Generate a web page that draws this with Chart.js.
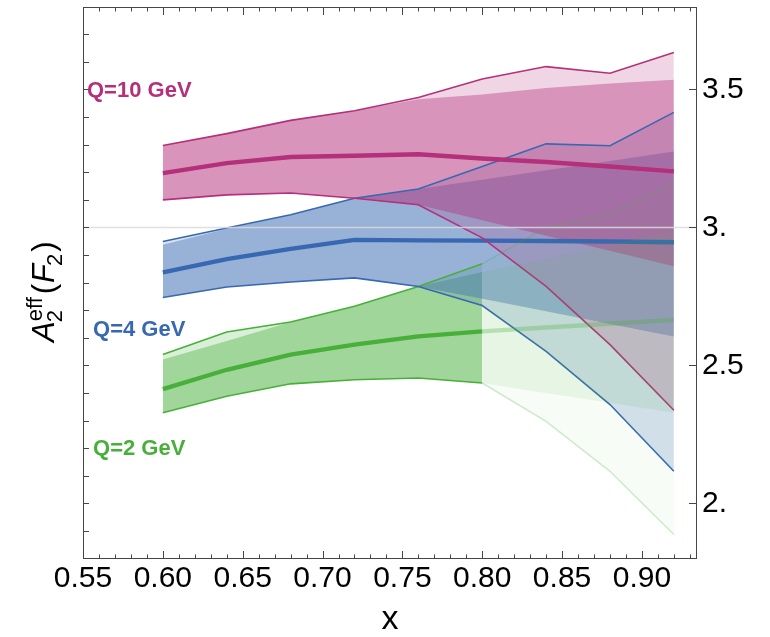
<!DOCTYPE html>
<html>
<head>
<meta charset="utf-8">
<script src="https://cdn.jsdelivr.net/npm/chart.js@4.4.1/dist/chart.umd.min.js"></script>
<style>
  html, body { margin: 0; padding: 0; background: #ffffff; }
  #wrap { width: 770px; height: 637px; }
</style>
</head>
<body>
<div id="wrap"><canvas id="c" width="770" height="637"></canvas></div>
<script>
// ---------------- data ----------------
const xValues = [0.60, 0.64, 0.68, 0.72, 0.76, 0.80, 0.84, 0.88, 0.92];

// Q = 10 GeV
const q10Central    = [3.197, 3.233, 3.255, 3.260, 3.265, 3.250, 3.237, 3.221, 3.203];
const q10Upper      = [3.297, 3.340, 3.388, 3.423, 3.471, 3.538, 3.583, 3.559, 3.634];
const q10Lower      = [3.100, 3.118, 3.125, 3.106, 3.082, 2.962, 2.786, 2.575, 2.337];
const q10InnerUpper = [3.297, 3.340, 3.388, 3.423, 3.465, 3.482, 3.505, 3.522, 3.535];
const q10InnerLower = [3.100, 3.118, 3.125, 3.106, 3.082, 3.026, 2.970, 2.915, 2.859];

// Q = 4 GeV
const q4Central    = [2.837, 2.885, 2.922, 2.955, 2.953, 2.952, 2.951, 2.949, 2.946];
const q4Upper      = [2.949, 2.998, 3.046, 3.106, 3.139, 3.221, 3.303, 3.296, 3.417];
const q4Lower      = [2.746, 2.784, 2.802, 2.817, 2.786, 2.717, 2.551, 2.358, 2.116];
const q4InnerUpper = [2.937, 2.995, 3.046, 3.106, 3.139, 3.173, 3.207, 3.241, 3.275];
const q4InnerLower = [2.746, 2.784, 2.802, 2.817, 2.786, 2.741, 2.696, 2.650, 2.605];

// Q = 2 GeV
const q2Central    = [2.414, 2.484, 2.539, 2.575, 2.605, 2.623, 2.637, 2.651, 2.665];
const q2Upper      = [2.539, 2.621, 2.657, 2.714, 2.786, 2.868, 3.000, 3.052, 3.161];
const q2Lower      = [2.328, 2.388, 2.433, 2.448, 2.454, 2.436, 2.297, 2.116, 1.887];
const q2InnerUpper = [2.521, 2.588, 2.657, 2.714, 2.786, 2.838, 2.885, 2.937, 2.990];
const q2InnerLower = [2.328, 2.388, 2.433, 2.448, 2.454, 2.436, 2.400, 2.364, 2.328];
const q2SolidUpTo  = 0.80;   // beyond this x the Q=2 GeV curve is drawn faded

// axes
const xTickValues = [0.55, 0.60, 0.65, 0.70, 0.75, 0.80, 0.85, 0.90];
const yTickValues = [2.0, 2.5, 3.0, 3.5];
const yTickLabels = ['2.', '2.5', '3.', '3.5'];
const gridLineValue = 3.0;
const xMin = 0.55, xMax = 0.9345, yMin = 1.798, yMax = 3.799;

// ---------------- styles ----------------
const FAM = '"Liberation Sans", Arial, Helvetica, sans-serif';
const series = [
  { name: 'Q=2 GeV',  rgb: [72, 176, 58],  c: q2Central,  u: q2Upper,  l: q2Lower,  iu: q2InnerUpper,  il: q2InnerLower,  fadeFrom: q2SolidUpTo, lx: 0.5563, ly: 2.198 },
  { name: 'Q=4 GeV',  rgb: [56, 104, 178], c: q4Central,  u: q4Upper,  l: q4Lower,  iu: q4InnerUpper,  il: q4InnerLower,  fadeFrom: null,        lx: 0.5563, ly: 2.628 },
  { name: 'Q=10 GeV', rgb: [180, 48, 122], c: q10Central, u: q10Upper, l: q10Lower, iu: q10InnerUpper, il: q10InnerLower, fadeFrom: null,        lx: 0.5525, ly: 3.493 }
];
const rgba = (rgb, a) => `rgba(${rgb[0]},${rgb[1]},${rgb[2]},${a})`;
const NONE = 'rgba(0,0,0,0)';

// ---------------- datasets ----------------
const datasets = [];
function pts(ys, lo, hi) {
  return xValues.map((x, i) => ({ x: x, y: ys[i] }))
                .filter(p => p.x >= lo - 1e-9 && p.x <= hi + 1e-9);
}
function addBand(upper, lower, lo, hi, color, order) {
  const iU = datasets.length;
  datasets.push({ data: pts(upper, lo, hi), borderWidth: 0, borderColor: NONE, pointRadius: 0,
                  fill: iU + 1, backgroundColor: color, order: order, xAxisID: 'x', yAxisID: 'y' });
  datasets.push({ data: pts(lower, lo, hi), borderWidth: 0, borderColor: NONE, pointRadius: 0,
                  fill: false, order: order, xAxisID: 'x', yAxisID: 'y' });
}
function addLine(ys, lo, hi, color, width, order) {
  datasets.push({ data: pts(ys, lo, hi), borderWidth: width, borderColor: color, pointRadius: 0,
                  fill: false, order: order, xAxisID: 'x', yAxisID: 'y' });
}

const THIN = 1.6, THICK = 4.4;
series.forEach((s, k) => {
  const hi = s.fadeFrom !== null ? s.fadeFrom : xValues[xValues.length - 1];
  const lo = xValues[0];
  // fills (bottom layer): green first, then blue, then magenta
  addBand(s.u, s.l, lo, hi, rgba(s.rgb, 0.20), 100 - 2 * k);
  addBand(s.iu, s.il, lo, hi, rgba(s.rgb, 0.40), 99 - 2 * k);
  // lines above all fills
  addLine(s.u, lo, hi, rgba(s.rgb, 1), THIN, 60 - 2 * k);
  addLine(s.l, lo, hi, rgba(s.rgb, 1), THIN, 60 - 2 * k);
  addLine(s.c, lo, hi, rgba(s.rgb, 1), THICK, 59 - 2 * k);
  if (s.fadeFrom !== null) {
    const end = xValues[xValues.length - 1];
    addBand(s.u, s.l, s.fadeFrom, end, rgba(s.rgb, 0.04), 30);
    addBand(s.iu, s.il, s.fadeFrom, end, rgba(s.rgb, 0.10), 29);
    addLine(s.u, s.fadeFrom, end, rgba(s.rgb, 0.25), THIN, 28);
    addLine(s.l, s.fadeFrom, end, rgba(s.rgb, 0.25), THIN, 28);
    addLine(s.c, s.fadeFrom, end, rgba(s.rgb, 0.30), THICK, 27);
  }
});

// ---------------- decorations (frame, inward ticks, labels) ----------------
function drawYTitle(ctx) {
  ctx.save();
  ctx.translate(53.5, 342);
  ctx.rotate(-Math.PI / 2);
  ctx.fillStyle = '#000';
  ctx.textAlign = 'left';
  ctx.textBaseline = 'alphabetic';
  const big = 31, small = 22;
  let x = 0;
  ctx.font = `italic ${big}px ${FAM}`;
  ctx.fillText('A', x, 0);
  x += ctx.measureText('A').width - 1;
  ctx.font = `${small}px ${FAM}`;
  ctx.fillText('eff', x + 1, -12);
  ctx.fillText('2', x, 8);
  x += Math.max(ctx.measureText('eff').width + 1, ctx.measureText('2').width) + 3;
  ctx.font = `${big}px ${FAM}`;
  ctx.fillText('(', x, 0);
  x += ctx.measureText('(').width + 1;
  ctx.font = `italic ${big}px ${FAM}`;
  ctx.fillText('F', x, 0);
  x += ctx.measureText('F').width - 2;
  ctx.font = `${small}px ${FAM}`;
  ctx.fillText('2', x, 8);
  x += ctx.measureText('2').width + 2;
  ctx.font = `${big}px ${FAM}`;
  ctx.fillText(')', x, 0);
  ctx.restore();
}

const decor = {
  id: 'decor',
  afterDatasetsDraw(chart) {
    const { ctx, chartArea: a, scales: { y } } = chart;
    ctx.save();
    ctx.strokeStyle = 'rgba(218,218,218,0.85)';
    ctx.lineWidth = 1.3;
    const gy = Math.round(y.getPixelForValue(gridLineValue)) + 0.5;
    ctx.beginPath(); ctx.moveTo(a.left, gy); ctx.lineTo(a.right, gy); ctx.stroke();
    ctx.restore();
  },
  afterDraw(chart) {
    const { ctx, chartArea: a, scales: { x, y } } = chart;
    ctx.save();
    ctx.strokeStyle = '#464646';
    ctx.lineWidth = 1;
    // frame
    ctx.strokeRect(a.left + 0.5, a.top + 0.5, a.right - a.left - 1, a.bottom - a.top - 1);
    ctx.beginPath();
    // x ticks (top and bottom), minor every 0.01, major every 0.05
    for (let k = 55; k <= 93; k++) {
      const px = Math.round(x.getPixelForValue(k / 100)) + 0.5;
      const len = (k % 5 === 0) ? 8 : 4.5;
      ctx.moveTo(px, a.bottom); ctx.lineTo(px, a.bottom - len);
      ctx.moveTo(px, a.top);    ctx.lineTo(px, a.top + len);
    }
    // left ticks every 0.1
    for (let k = 19; k <= 37; k++) {
      const py = Math.round(y.getPixelForValue(k / 10)) + 0.5;
      ctx.moveTo(a.left, py); ctx.lineTo(a.left + 6, py);
    }
    // right ticks at labelled values
    yTickValues.forEach(v => {
      const py = Math.round(y.getPixelForValue(v)) + 0.5;
      ctx.moveTo(a.right, py); ctx.lineTo(a.right - 8, py);
    });
    ctx.stroke();
    ctx.restore();

    // series labels
    ctx.save();
    ctx.font = `bold 22px ${FAM}`;
    ctx.textAlign = 'left';
    ctx.textBaseline = 'middle';
    series.forEach(s => {
      ctx.fillStyle = rgba(s.rgb, 1);
      ctx.fillText(s.name, x.getPixelForValue(s.lx), y.getPixelForValue(s.ly));
    });
    ctx.restore();

    drawYTitle(ctx);
  }
};

// ---------------- chart ----------------
new Chart(document.getElementById('c'), {
  type: 'line',
  data: { datasets: datasets },
  options: {
    responsive: false,
    animation: false,
    devicePixelRatio: 1,
    layout: { padding: { top: 7, left: 0, right: 0, bottom: 0 } },
    plugins: { legend: { display: false }, tooltip: { enabled: false } },
    elements: { line: { tension: 0 } },
    scales: {
      x: {
        type: 'linear', position: 'bottom', min: xMin, max: xMax, bounds: 'data',
        afterBuildTicks: s => { s.ticks = xTickValues.map(v => ({ value: v })); },
        ticks: { callback: v => Number(v).toFixed(2), font: { family: FAM, size: 30 }, color: '#000',
                 padding: 2, maxRotation: 0, minRotation: 0, autoSkip: false },
        grid: { display: false, drawTicks: false },
        border: { display: false },
        title: { display: true, text: 'x', color: '#000', font: { family: FAM, size: 34, lineHeight: 1 },
                 padding: { top: 0, bottom: 0 } },
        afterFit: s => { s.height = 78; s.paddingLeft = 0; s.paddingRight = 0; }
      },
      y: {
        type: 'linear', position: 'right', min: yMin, max: yMax, bounds: 'data',
        afterBuildTicks: s => { s.ticks = yTickValues.map(v => ({ value: v })); },
        ticks: { callback: (v, i) => yTickLabels[i], font: { family: FAM, size: 30 }, color: '#000',
                 padding: 5, autoSkip: false },
        grid: { display: false, drawTicks: false },
        border: { display: false },
        afterFit: s => { s.width = 73; s.paddingTop = 0; s.paddingBottom = 0; }
      },
      yl: {
        type: 'linear', position: 'left', min: yMin, max: yMax, bounds: 'data',
        ticks: { display: false },
        grid: { display: false, drawTicks: false },
        border: { display: false },
        afterFit: s => { s.width = 83; s.paddingTop = 0; s.paddingBottom = 0; }
      }
    }
  },
  plugins: [decor]
});
</script>
</body>
</html>
